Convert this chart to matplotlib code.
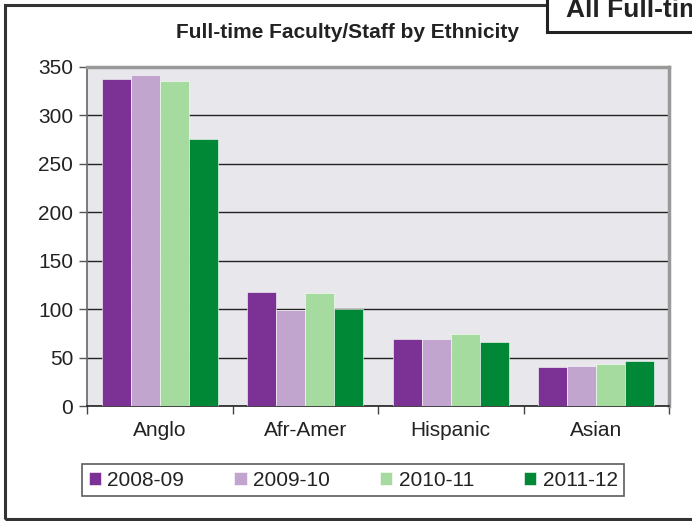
import numpy as np
import matplotlib
matplotlib.use("Agg")
import matplotlib.pyplot as plt
from matplotlib.patches import Rectangle

plt.rcParams["font.family"] = ["Liberation Sans", "DejaVu Sans"]

# ── data ───────────────────────────────────────────────────────────────
groups = ["Anglo", "Afr-Amer", "Hispanic", "Asian"]
years = ["2008-09", "2009-10", "2010-11", "2011-12"]
counts_0809 = [338, 118, 69, 40]
counts_0910 = [342, 99, 69, 41]
counts_1011 = [336, 117, 74, 43]
counts_1112 = [276, 100, 66, 46]
colors = ["#7B3294", "#C2A5CF", "#A6DBA0", "#008837"]
y_ticks = [0, 50, 100, 150, 200, 250, 300, 350]

series = [counts_0809, counts_0910, counts_1011, counts_1112]

W, H = 692, 521
fig = plt.figure(figsize=(W / 100, H / 100), dpi=100)

# outer frame
fig.patches.append(Rectangle((5 / W, 1 - 519 / H), 700 / W, 514 / H,
                             transform=fig.transFigure, fill=False,
                             edgecolor="#333333", lw=2.2))
# section header box (runs off the page)
fig.patches.append(Rectangle((547 / W, 1 - 32 / H), 200 / W, 60 / H,
                             transform=fig.transFigure, facecolor="white",
                             edgecolor="#222222", lw=2.2, zorder=5))
fig.text(566 / W, 1 - 10 / H, "All Full-time Faculty/Staff", fontsize=19,
         fontweight="bold", color="#222222", va="center", ha="left", zorder=6)

ax = fig.add_axes([87 / W, 1 - 406 / H, (669 - 87) / W, (406 - 67) / H])
ax.set_facecolor("#E8E8EC")

x = np.arange(len(groups))
bw = 0.2
for i, (vals, col, lab) in enumerate(zip(series, colors, years)):
    ax.bar(x + (i - 1.5) * bw, vals, width=bw, color=col, label=lab,
           edgecolor="white", linewidth=0.4, zorder=3)

ax.set_xlim(-0.5, len(groups) - 0.5)
ax.set_ylim(0, 350)
ax.set_yticks(y_ticks)
ax.tick_params(axis="y", labelsize=15, length=6, width=1, color="#555555",
               pad=4, labelcolor="#222222")
ax.set_xticks(x)
ax.set_xticklabels(groups)
ax.set_xticks(np.arange(-0.5, len(groups)), minor=True)
ax.tick_params(axis="x", which="major", length=0, labelsize=15, pad=11,
               labelcolor="#222222")
ax.tick_params(axis="x", which="minor", length=6, width=1, color="#444444")

ax.yaxis.grid(True, color="#222222", lw=1.0, zorder=1)
ax.set_axisbelow(True)

ax.spines["top"].set_color("#999999")
ax.spines["top"].set_linewidth(2.5)
ax.spines["right"].set_color("#999999")
ax.spines["right"].set_linewidth(2.5)
ax.spines["left"].set_color("#666666")
ax.spines["left"].set_linewidth(1.2)
ax.spines["bottom"].set_color("#222222")
ax.spines["bottom"].set_linewidth(1.2)

fig.text(348 / W, 1 - 33 / H, "Full-time Faculty/Staff by Ethnicity",
         fontsize=15, fontweight="bold", color="#222222",
         ha="center", va="center")

leg = fig.legend(loc="center", bbox_to_anchor=(353 / W, 1 - 480 / H),
                 ncol=4, fontsize=15, frameon=True, fancybox=False,
                 handlelength=0.6, handleheight=0.6, handletextpad=0.3,
                 columnspacing=2.4, borderpad=0.3)
leg.get_frame().set_edgecolor("#333333")
leg.get_frame().set_linewidth(1.2)
for t in leg.get_texts():
    t.set_color("#222222")

fig.savefig("out.png", dpi=100)
